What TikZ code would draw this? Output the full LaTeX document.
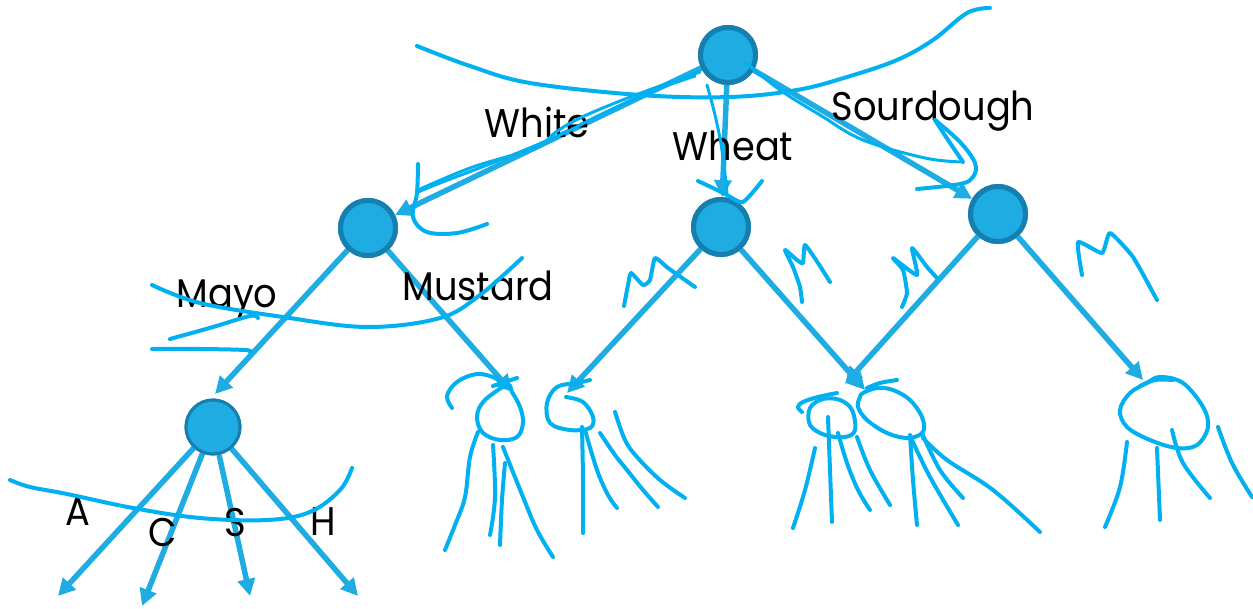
\documentclass[tikz,border=0pt]{standalone}
\usepackage{fontspec}
\setmainfont{Poppins}
\usetikzlibrary{arrows.meta}
\definecolor{nodefill}{HTML}{1FACE3}
\definecolor{nodeline}{HTML}{1580B0}
\definecolor{edgeblue}{HTML}{1FACE3}
\definecolor{inkblue}{HTML}{00B0F0}
\newcommand{\lbltext}[1]{\scalebox{0.92}[1]{#1}}
\tikzset{
  treenode/.style={circle, fill=nodefill, draw=nodeline, line width=5pt, minimum size=55pt, inner sep=0pt},
  smallnode/.style={treenode, line width=3pt, minimum size=54pt},
  edge/.style={draw=edgeblue, line width=5.5pt, -{Triangle[length=17pt,width=17pt]}},
  ink/.style={draw=inkblue, line width=4pt, line cap=round, line join=round},
  thinink/.style={ink, line width=3pt},
  lbl/.style={font=\fontsize{40}{44}\selectfont, inner sep=0pt, anchor=base, text=black},
}
\begin{document}
\begin{tikzpicture}[x=1pt, y=-1pt]
\useasboundingbox (0,0) rectangle (1253,608);

% tree nodes
\node[treenode] (root) at (728,55) {};
\node[treenode] (white) at (368,228) {};
\node[treenode] (wheat) at (721,227) {};
\node[treenode] (sour) at (998,214) {};
\node[smallnode] (mayo) at (213,427) {};

% free ends of the connectors
\coordinate (mayoin) at (215,394);
\coordinate (mustardleaf) at (512,392);
\coordinate (wheatL) at (567,393);
\coordinate (wheatR) at (865,390);
\coordinate (sourL) at (845,384);
\coordinate (sourR) at (1143,380);
\coordinate (leafA) at (58,596);
\coordinate (leafC) at (142,606);
\coordinate (leafS) at (250,596);
\coordinate (leafH) at (358,596);

% connectors
\draw[edge] (root) -- (white);
\draw[edge] (root) -- (wheat);
\draw[edge] (root) -- (sour);
\draw[edge] (white) -- (mayoin);
\draw[edge] (white) -- (mustardleaf);
\draw[edge] (wheat) -- (wheatL);
\draw[edge] (wheat) -- (wheatR);
\draw[edge] (sour) -- (sourL);
\draw[edge] (sour) -- (sourR);
\draw[edge] (mayo) -- (leafA);
\draw[edge] (mayo) -- (leafC);
\draw[edge] (mayo) -- (leafS);
\draw[edge] (mayo) -- (leafH);

% redraw nodes on top of the connector starts
\node[treenode] at (root) {};
\node[treenode] at (white) {};
\node[treenode] at (wheat) {};
\node[treenode] at (sour) {};
\node[smallnode] at (mayo) {};

% labels
\node[lbl] (tWhite) at (537,137) {\lbltext{White}};
\node[lbl] (tWheat) at (733,160) {\lbltext{Wheat}};
\node[lbl] (tSour) at (933,120) {\lbltext{Sourdough}};
\node[lbl] (tMayo) at (227,307) {\lbltext{Mayo}};
\node[lbl] (tMustard) at (478,300) {\lbltext{Mustard}};
\node[lbl] (tA) at (78,525) {\lbltext{A}};
\node[lbl] (tC) at (163,546) {\lbltext{C}};
\node[lbl] (tS) at (235,536) {\lbltext{S}};
\node[lbl] (tH) at (323,535) {\lbltext{H}};

% ---- pen strokes ----
% long arc across the top
\draw[ink] plot[smooth, tension=.6] coordinates {(417,46) (470,66) (530,83) (640,95) (730,97) (797,90) (847,77) (897,60) (933,40) (967,13) (990,8)};
% traced lines along the White branch
\draw[thinink] plot[smooth, tension=.6] coordinates {(700,72) (660,86) (620,101) (580,118) (556,132) (540,146) (520,153) (470,168) (418,190)};
\draw[thinink] plot[smooth, tension=.6] coordinates {(695,76) (650,92) (600,115) (560,135) (500,160) (440,183) (418,192)};
% hook beside the White node
\draw[ink] plot[smooth, tension=.6] coordinates {(418,164) (417,193) (413,217) (427,232) (457,233) (487,224)};
% traced line and tick on the Wheat branch
\draw[thinink] plot[smooth, tension=.6] coordinates {(707,85) (715,115) (722,150) (727,193)};
\draw[ink] plot[smooth, tension=.4] coordinates {(698,181) (713,188) (727,195) (743,202) (762,181)};
% traced line and loop on the Sourdough branch
\draw[thinink] plot[smooth, tension=.6] coordinates {(745,62) (780,90) (820,115) (863,140) (925,158) (963,162)};
\draw[ink] plot[smooth, tension=.5] coordinates {(963,162) (948,140) (935,120)};
\draw[ink] plot[smooth, tension=.6] coordinates {(935,120) (960,142) (975,163) (973,177) (960,184) (917,189)};
% strokes around Mayo / Mustard
\draw[ink] plot[smooth, tension=.6] coordinates {(152,285) (200,303) (283,317) (367,327) (440,318) (480,295) (522,258)};
\draw[ink] plot[smooth, tension=.6] coordinates {(170,339) (213,327) (250,316) (258,318)};
\draw[ink] plot[smooth, tension=.6] coordinates {(152,349) (200,349) (245,350) (250,352)};
% stroke across the condiment branches
\draw[ink] plot[smooth, tension=.6] coordinates {(10,480) (30,487) (67,494) (133,508) (200,518) (267,520) (310,512) (340,490) (352,468)};

% leaf under Mustard
\draw[ink] plot[smooth, tension=.6] coordinates {(452,408) (447,396) (457,382) (477,374) (495,378) (503,385)};
\draw[ink] (493,386) -- (517,378);
\draw[ink] plot[smooth cycle, tension=.6] coordinates {(507,385) (484,401) (477,417) (483,433) (500,440) (517,437) (523,423) (520,407) (512,392)};
\draw[ink] plot[smooth, tension=.6] coordinates {(478,432) (470,457) (465,497) (455,525) (445,550)};
\draw[ink] plot[smooth, tension=.6] coordinates {(493,445) (495,497) (490,535)};
\draw[ink] plot[smooth, tension=.6] coordinates {(505,463) (502,500) (500,545)};
\draw[ink] plot[smooth, tension=.6] coordinates {(503,447) (523,497) (537,530) (553,557)};

% leaf under the left Wheat branch
\draw[ink] plot[smooth, tension=.6] coordinates {(566,397) (583,402) (593,417) (590,428) (570,430) (550,423) (547,403) (557,387) (577,383) (590,380)};
\draw[ink] plot[smooth, tension=.6] coordinates {(582,427) (583,480) (583,533)};
\draw[ink] plot[smooth, tension=.6] coordinates {(585,430) (597,470) (608,495) (617,508)};
\draw[ink] plot[smooth, tension=.6] coordinates {(600,433) (615,455) (627,470) (643,490) (658,507)};
\draw[ink] plot[smooth, tension=.6] coordinates {(615,412) (625,440) (637,457) (660,480) (685,498)};

% two leaves under the middle
\draw[ink] plot[smooth, tension=.6] coordinates {(802,412) (798,407) (803,402) (818,397) (837,393)};
\draw[ink] plot[smooth cycle, tension=.6] coordinates {(823,399) (810,408) (810,425) (825,435) (845,437) (855,430) (852,410) (840,400)};
\draw[ink] plot[smooth, tension=.6] coordinates {(867,388) (880,383) (897,380)};
\draw[ink] plot[smooth cycle, tension=.6] coordinates {(860,397) (858,407) (867,420) (887,433) (908,438) (923,432) (922,417) (910,400) (893,390) (877,388) (863,393)};
\draw[ink] plot[smooth, tension=.6] coordinates {(815,448) (805,490) (793,528)};
\draw[ink] plot[smooth, tension=.6] coordinates {(828,417) (830,470) (832,522)};
\draw[ink] plot[smooth, tension=.6] coordinates {(838,433) (847,463) (858,490) (870,510)};
\draw[ink] plot[smooth, tension=.6] coordinates {(857,437) (870,470) (890,505)};
\draw[ink] plot[smooth, tension=.6] coordinates {(910,435) (913,480) (917,525)};
\draw[ink] plot[smooth, tension=.6] coordinates {(912,440) (930,477) (958,525)};
\draw[ink] plot[smooth, tension=.6] coordinates {(922,433) (940,470) (963,498)};
\draw[ink] plot[smooth, tension=.6] coordinates {(923,438) (947,460) (993,490) (1040,532)};

% leaf under the right Sourdough branch
\draw[ink] plot[smooth, tension=.6] coordinates {(1140,386) (1155,380) (1173,380)};
\draw[ink] plot[smooth cycle, tension=.6] coordinates {(1160,377) (1183,383) (1203,407) (1208,427) (1197,445) (1177,448) (1150,440) (1127,427) (1120,410) (1130,393) (1147,383)};
\draw[ink] plot[smooth, tension=.6] coordinates {(1127,442) (1120,487) (1105,527)};
\draw[ink] plot[smooth, tension=.6] coordinates {(1157,448) (1160,520)};
\draw[ink] plot[smooth, tension=.6] coordinates {(1172,430) (1183,463) (1210,498)};
\draw[ink] plot[smooth, tension=.6] coordinates {(1218,427) (1232,463) (1252,497)};

% M marks beside the lower branches
\draw[ink] plot[smooth, tension=.3] coordinates {(624,306) (628,285) (631,273) (643,285) (650,280) (655,258) (668,268) (695,287)};
\draw[ink] plot[smooth, tension=.3] coordinates {(802,302) (800,287) (793,267) (785,250) (797,260) (803,263) (805,245) (818,263) (830,282)};
\draw[ink] plot[smooth, tension=.3] coordinates {(902,307) (907,293) (903,270) (893,258) (917,275) (912,248) (927,267) (937,278)};
\draw[ink] plot[smooth, tension=.3] coordinates {(1082,275) (1078,242) (1102,253) (1110,233) (1133,257) (1157,300)};
\end{tikzpicture}
\end{document}
